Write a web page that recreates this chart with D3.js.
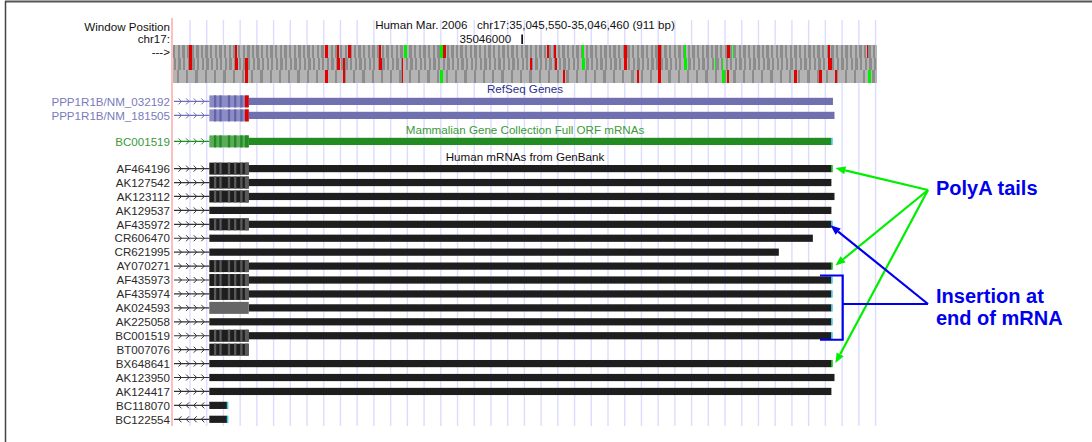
<!DOCTYPE html>
<html><head><meta charset="utf-8">
<script src="https://cdn.jsdelivr.net/npm/d3@7/dist/d3.min.js"></script>
<style>body{margin:0;background:#fff}svg{display:block;font-family:"Liberation Sans",Arial,Helvetica,sans-serif}</style>
</head><body><svg id="c" width="1092" height="442"></svg>
<script>
// ---------------- data ----------------
const assembly = "Human Mar. 2006";
const chrom = "chr17";
const chromStart = 35045550, chromEnd = 35046460;
const positionTicks = [35046000];

// three-frame translation: stop codons (red) and Met codons (green), [start, lengthBp]
const frameStops = [
  [[35045571,3],[35045630,3],[35045747,3],[35045762,3],[35045776,4],[35045817,2],[35045899,4],[35046034,3],[35046043,3],[35046134,3],[35046178,3],[35046267,4],[35046398,2],[35046448,2]],
  [[35045571,4],[35045630,4],[35045643,4],[35045762,4],[35045770,2],[35045817,4],[35045846,2],[35046012,3],[35046044,3],[35046134,4],[35046178,3],[35046398,5]],
  [[35045643,4],[35045747,3],[35045770,3],[35045846,2],[35046055,2],[35046150,3],[35046178,3],[35046267,2],[35046354,3],[35046386,4],[35046407,2]]
];
const frameMets = [
  [[35045849,4],[35045896,3],[35046079,3],[35046211,3],[35046275,1]],
  [[35046079,4],[35046211,4],[35046251,2],[35046260,2]],
  [[35045896,4],[35046260,4],[35046449,4]]
];

const cdsStart = 35045597, cdsEnd = 35045647;
const stopCodon = [35045643, 35045647];
const codonStripes = [35045603, 35045610, 35045621, 35045629, 35045637];

const refseqNames = ["PPP1R1B/NM_032192", "PPP1R1B/NM_181505"];
const refseqEnds = [35046403, 35046405];

const mgcNames = ["BC001519"];
const mgcEnds = [35046401];
const mgcTails = ["insert"];

const mrnaNames = ["AF464196","AK127542","AK123112","AK129537","AF435972","CR606470","CR621995","AY070271","AF435973","AF435974","AK024593","AK225058","BC001519","BT007076","BX648641","AK123950","AK124417","BC118070","BC122554"];
const mrnaStrand = ["+","+","+","+","+","+","+","+","+","+","+","+","+","+","+","+","+","-","-"];
const mrnaCds = ["striped","striped","striped","plain","striped","plain","plain","striped","striped","striped","solid","plain","striped","striped","plain","plain","plain","plain","plain"];
const mrnaEnds = [35046401,35046401,35046405,35046401,35046401,35046377,35046333,35046401,35046401,35046401,35046401,35046401,35046401,null,35046401,35046405,35046401,35045619,35045619];
const mrnaTails = ["polyA","","","","insert","","","polyA","insert","insert","insert","insert","insert","","polyA","","","insert","insert"];

const noteLabels = [["PolyA tails"], ["Insertion at", "end of mRNA"]];
const polyATargets = ["AF464196", "AY070271", "BX648641"];
const insertTarget = "AF435972";
const insertBracket = ["AF435973", "BC001519"];

// ---------------- drawing ----------------
const svg = d3.select("#c");
const x = d3.scaleLinear().domain([chromStart - 0.5, chromEnd + 0.5]).range([173, 877]);
const fmt = d3.format(",");
const labelX = 170;
const FS = "11.6px";

// frame border
svg.append("line").attr("x1",5).attr("x2",1092).attr("y1",1.5).attr("y2",1.5).attr("stroke","#555").attr("stroke-width",2);
svg.append("line").attr("x1",5.5).attr("x2",5.5).attr("y1",1).attr("y2",442).attr("stroke","#444").attr("stroke-width",1.5);

// guidelines
const guides = d3.range(190, 878, 16.72);
svg.append("g").selectAll("line").data(guides).join("line")
  .attr("x1", d => d).attr("x2", d => d).attr("y1", 20).attr("y2", 426)
  .attr("stroke", "#dcdcff").attr("stroke-width", 1.4);
svg.append("line").attr("x1",172).attr("x2",172).attr("y1",18).attr("y2",426).attr("stroke","#ffafaf").attr("stroke-width",1.6);

// header
const dataMid = (x.range()[0] + x.range()[1]) / 2;
svg.append("text").attr("x", dataMid).attr("y", 28.5).attr("text-anchor","middle").attr("font-size","11.6px").attr("fill","#111")
  .attr("xml:space","preserve")
  .text(`${assembly}   ${chrom}:${fmt(chromStart)}-${fmt(chromEnd)} (${fmt(chromEnd - chromStart + 1)} bp)`);
positionTicks.forEach(t => {
  svg.append("line").attr("x1", x(t)+1).attr("x2", x(t)+1).attr("y1", 34.5).attr("y2", 44).attr("stroke","#000").attr("stroke-width",1.6);
  svg.append("text").attr("x", x(t) - 10).attr("y", 43).attr("text-anchor","end").attr("font-size",FS).attr("fill","#111").text(t);
});
[["Window Position", 30.5], [chrom + ":", 42.5], ["--->", 55.5]].forEach(([t, y]) =>
  svg.append("text").attr("x", labelX).attr("y", y).attr("text-anchor","end").attr("font-size",FS).attr("fill","#111").text(t));

// base position frames
const bandTop = [45, 57.6, 70.2], bandH = 12.6;
const gBand = svg.append("g").attr("shape-rendering","crispEdges");
bandTop.forEach((y0, r) => {
  gBand.append("rect").attr("x", x.range()[0]).attr("y", y0).attr("width", x.range()[1]-x.range()[0]).attr("height", bandH).attr("fill","#b4b4b4");
  const codons = d3.range(chromStart + r, chromEnd, 3).map((s, k) => ({s, k}));
  const dark = codons.filter(c => r < 2 ? c.k % 2 === 0 : c.k % 4 === 1);
  gBand.selectAll(null).data(dark).join("rect")
    .attr("x", c => x(c.s - 0.5)).attr("y", y0)
    .attr("width", c => Math.min(x(c.s + 2.5), x.range()[1]) - x(c.s - 0.5)).attr("height", bandH)
    .attr("fill", "#8c8c8c");
  gBand.selectAll(null).data(frameStops[r]).join("rect")
    .attr("x", d => x(d[0] - 0.5)).attr("y", y0).attr("width", d => x(d[0] + d[1]) - x(d[0])).attr("height", bandH).attr("fill","#e60000");
  gBand.selectAll(null).data(frameMets[r]).join("rect")
    .attr("x", d => x(d[0] - 0.5)).attr("y", y0).attr("width", d => x(d[0] + d[1]) - x(d[0])).attr("height", bandH).attr("fill","#00ee00");
});

// track titles
[["RefSeq Genes", 93, "#2e2e8a"], ["Mammalian Gene Collection Full ORF mRNAs", 134, "#3a9a3a"], ["Human mRNAs from GenBank", 160.5, "#111"]]
  .forEach(([t, y, c]) => svg.append("text").attr("x", dataMid).attr("y", y).attr("text-anchor","middle").attr("font-size",FS).attr("fill",c).text(t));

// generic feature drawer
function drawFeature(g, y, o) {
  const bx0 = x(cdsStart - 0.5), bx1 = x(cdsEnd + 0.5);
  // line with chevrons
  g.append("line").attr("x1", x.range()[0] + 1).attr("x2", bx0).attr("y1", y).attr("y2", y).attr("stroke", o.line).attr("stroke-width", 1.2);
  d3.range(x.range()[0] + 8, bx0 - 2, 7.6).forEach(cx => {
    const d = o.strand === "+" ? `M${cx-2.5},${y-3}L${cx+0.5},${y}L${cx-2.5},${y+3}` : `M${cx+0.5},${y-3}L${cx-2.5},${y}L${cx+0.5},${y+3}`;
    g.append("path").attr("d", d).attr("fill","none").attr("stroke", o.line).attr("stroke-width", 1);
  });
  // 3' part (thin)
  if (o.end != null) {
    const sx = o.cds === "plain" ? bx0 : bx1;
    g.append("rect").attr("x", sx).attr("y", y - 3.6).attr("width", x(o.end + 0.5) - sx).attr("height", 7.2).attr("fill", o.utr);
    if (o.tail) {
      g.append("rect").attr("x", x(o.end + 0.5) - 0.3).attr("y", y - 3.6).attr("width", 1.6).attr("height", 7.2)
        .attr("fill", o.tail === "polyA" ? "#10b010" : "#3cc8e8");
    }
  }
  if (o.cds === "striped" || o.cds === "solid") {
    g.append("rect").attr("x", bx0).attr("y", y - 6).attr("width", bx1 - bx0).attr("height", 12).attr("fill", o.cds === "solid" ? "#666" : o.block);
    if (o.cds === "striped") {
      g.selectAll(null).data(codonStripes).join("rect")
        .attr("x", s => x(s - 0.5)).attr("y", y - 6).attr("width", s => x(s + 2.5) - x(s - 0.5)).attr("height", 12).attr("fill", o.stripe);
      g.append("rect").attr("x", x(stopCodon[0] - 0.5)).attr("y", y - 6).attr("width", x(stopCodon[1] + 0.5) - x(stopCodon[0] - 0.5)).attr("height", 12).attr("fill", o.stop);
    }
  }
}

// RefSeq
const refY = d3.scalePoint().domain(refseqNames).range([101.4, 115.4]);
const gRef = svg.append("g");
refseqNames.forEach((n, i) => {
  gRef.append("text").attr("x", labelX).attr("y", refY(n) + 4.2).attr("text-anchor","end").attr("font-size",FS).attr("fill","#7a7abb").text(n);
  drawFeature(gRef, refY(n), {strand:"+", cds:"striped", end: refseqEnds[i], line:"#7070b0", utr:"#7070b0", block:"#8d8dc6", stripe:"#6464aa", stop:"#e00000"});
});

// MGC
const mgcY = d3.scalePoint().domain(mgcNames).range([141.4, 141.4]);
const gMgc = svg.append("g");
mgcNames.forEach((n, i) => {
  gMgc.append("text").attr("x", labelX).attr("y", mgcY(n) + 4.2).attr("text-anchor","end").attr("font-size",FS).attr("fill","#3a9a3a").text(n);
  drawFeature(gMgc, mgcY(n), {strand:"+", cds:"striped", end: mgcEnds[i], tail: mgcTails[i], line:"#228b22", utr:"#228b22", block:"#5caa5c", stripe:"#228b22", stop:"#228b22"});
});

// mRNAs
const mY = d3.scalePoint().domain(mrnaNames).range([168.6, 419.3]);
const gM = svg.append("g");
mrnaNames.forEach((n, i) => {
  gM.append("text").attr("x", labelX).attr("y", mY(n) + 4.2).attr("text-anchor","end").attr("font-size",FS).attr("fill","#2a2a2a").text(n);
  drawFeature(gM, mY(n), {strand: mrnaStrand[i], cds: mrnaCds[i], end: mrnaEnds[i], tail: mrnaTails[i], line:"#333", utr:"#1e1e1e", block:"#1e1e1e", stripe:"#5a5a5a", stop:"#5a5a5a"});
});

// annotations
const endX = n => x(mrnaEnds[mrnaNames.indexOf(n)] + 0.5);
function arrow(g, ox, oy, tx, ty, color) {
  const dx = tx - ox, dy = ty - oy, L = Math.hypot(dx, dy), ux = dx / L, uy = dy / L;
  const bx = tx - ux * 10, by = ty - uy * 10;
  g.append("line").attr("x1", ox).attr("y1", oy).attr("x2", bx).attr("y2", by).attr("stroke", color).attr("stroke-width", 2.2);
  g.append("path").attr("d", `M${tx},${ty}L${bx - uy*4},${by + ux*4}L${bx + uy*4},${by - ux*4}Z`).attr("fill", color);
}
const gA = svg.append("g");
const polyO = [928, 190], insO = [928, 304];
polyATargets.forEach(n => arrow(gA, polyO[0], polyO[1], endX(n) + 4, mY(n) - 0.5, "#00ee00"));
arrow(gA, insO[0], insO[1], endX(insertTarget) - 1, mY(insertTarget) + 1, "#0000ee");
const brX = 842.7, brY0 = mY(insertBracket[0]) - 4.5, brY1 = mY(insertBracket[1]) + 4;
gA.append("path").attr("d", `M820,${brY0}H${brX}V${brY1}H820M${brX},${insO[1]}H${insO[0]}`).attr("fill","none").attr("stroke","#0000ee").attr("stroke-width",2.2);

const noteY = [[195.2], [303.4, 325.4]];
noteLabels.forEach((lines, i) => lines.forEach((t, j) =>
  gA.append("text").attr("x", 936).attr("y", noteY[i][j]).attr("font-size","20px").attr("font-weight","bold").attr("fill","#0000ee").text(t)));
</script>
</body></html>
